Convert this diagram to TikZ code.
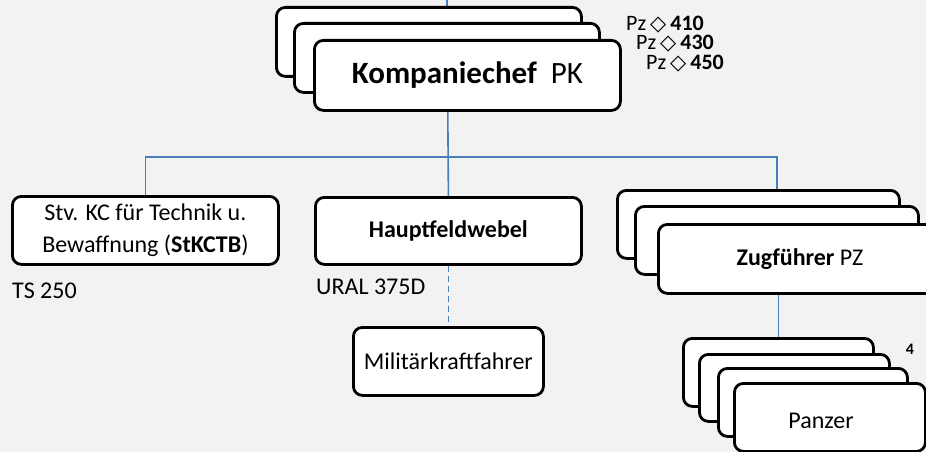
\documentclass[tikz,border=0pt]{standalone}
\usepackage{fontspec}
\setmainfont{Carlito}
\newfontfamily\symfont{DejaVu Sans}
\usetikzlibrary{backgrounds}
\pgfdeclarelayer{bg}
\pgfsetlayers{bg,background,main}
\definecolor{linkblue}{HTML}{4A7EBB}
\definecolor{bgcol}{HTML}{F2F2F2}
\newcommand{\dmd}{\smash{\symfont\fontsize{21}{21}\selectfont\hspace{-1pt}◇\hspace{-1pt}}}
\begin{document}
\begin{tikzpicture}[x=1pt,y=-1pt,
  box/.style={draw=black, line width=2.8pt, rounded corners=9pt, fill=white, inner sep=0pt, anchor=north west, font=\fontsize{24}{32}\selectfont},
  conn/.style={draw=linkblue, line width=1.6pt},
  lbl/.style={inner sep=0pt, font=\fontsize{24}{32}\selectfont},
  pzlbl/.style={inner sep=0pt, anchor=west, font=\fontsize{22}{24}\selectfont},
]
\begin{pgfonlayer}{bg}
\fill[bgcol] (0,0) rectangle (926,452);
\end{pgfonlayer}
\useasboundingbox (0,0) rectangle (926,452);

% Kompaniechef stack
\node[box, minimum width=305pt, minimum height=69pt] (kc1) at (275,6) {};
\node[box, minimum width=305pt, minimum height=69pt] (kc2) at (293,22) {};
\node[box, minimum width=306pt, minimum height=70pt, font=\fontsize{31}{36}\selectfont] (kc3) at (313,39) {\textbf{Kompaniechef}\hspace{14pt}PK};

\node[pzlbl] (pz410) at (626,23) {Pz \dmd{} \textbf{410}};
\node[pzlbl] (pz430) at (636,42) {Pz \dmd{} \textbf{430}};
\node[pzlbl] (pz450) at (646,62) {Pz \dmd{} \textbf{450}};

% second level
\node[box, minimum width=266pt, minimum height=68pt, align=center] (stv) at (11,195) {Stv. KC für Technik u.\\Bewaffnung (\textbf{StKCTB})};
\node[box, minimum width=266pt, minimum height=67pt] (hfw) at (314,196) {\textbf{Hauptfeldwebel}};
\node[lbl, anchor=west] (ts) at (12,291) {TS 250};
\node[lbl, anchor=west] (ural) at (316,287) {URAL 375D};
\node[box, minimum width=190pt, minimum height=68pt] (mil) at (352,326) {Militärkraftfahrer};

% Zugfuehrer stack
\node[box, minimum width=282pt, minimum height=68pt] (zug1) at (616,189) {};
\node[box, minimum width=283pt, minimum height=68pt] (zug2) at (634,205) {};
\node[box, minimum width=283pt, minimum height=69pt] (zug3) at (657,223) {\textbf{Zugführer} PZ};

% Panzer stack
\node[box, minimum width=190pt, minimum height=68pt] (pz1) at (682,337) {};
\node[box, minimum width=190pt, minimum height=67pt] (pz2) at (698,353) {};
\node[box, minimum width=189pt, minimum height=68pt] (pz3) at (717,367) {};
\node[box, minimum width=191pt, minimum height=68pt] (pz4) at (733,382) {};
\node[lbl] (pztext) at (821,421) {Panzer};
\node[inner sep=0pt, font=\fontsize{16}{16}\selectfont\bfseries] (four) at (910,349) {4};

% connectors
\coordinate (top) at (447,0);
\coordinate (bus) at (447,157);
\begin{pgfonlayer}{background}
\draw[conn] (top) -- (hfw.north);
\draw[conn] (stv.north) -- (stv.north |- bus) -- (bus -| zug2.north) -- (zug2.north);
\draw[conn] (pz1.north |- zug3.south) -- (pz1.north);
\draw[conn, dash pattern=on 6pt off 4pt] (hfw.south) -- (mil.north);
\end{pgfonlayer}
\end{tikzpicture}
\end{document}
